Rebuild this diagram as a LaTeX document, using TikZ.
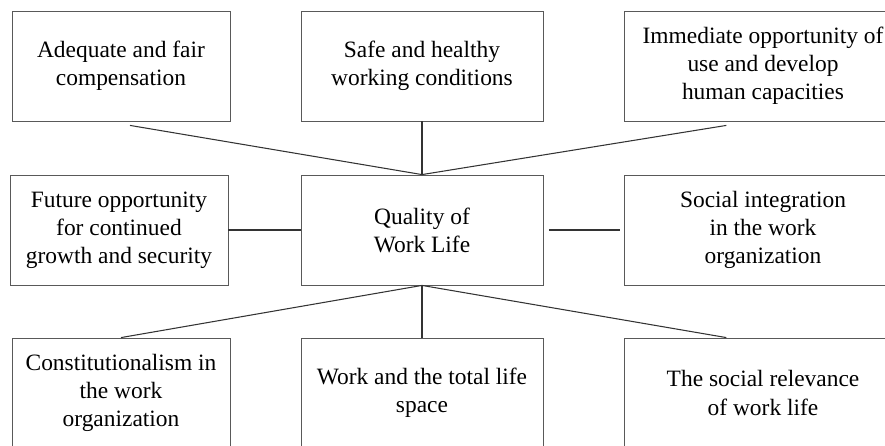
\documentclass[tikz,border=0pt]{standalone}
\usepackage{fontspec}
\setmainfont{Liberation Serif}
\usetikzlibrary{calc}

\begin{document}
\begin{tikzpicture}[
  x=0.03cm, y=-0.03cm,
  box/.style={draw=black!65, line width=0.7pt, rectangle, minimum height=3.3cm,
              align=center, inner sep=2pt,
              font=\fontsize{20}{24}\selectfont},
  lbox/.style={box, minimum width=6.54cm},
  cbox/.style={box, minimum width=7.26cm},
  rbox/.style={box, minimum width=8.3cm},
  con/.style={draw=black!80, line width=0.9pt},
]
%% ---- Page frame (right column runs off the edge) ----
\useasboundingbox (0,0) rectangle (885,446);
\clip (0,0) rectangle (885,446);

%% ---- Top row ----
\node[lbox] (TL) at (121, 66) {Adequate and fair\\compensation};
\node[cbox] (TC) at (422, 66) {Safe and healthy\\working conditions};
\node[rbox] (TR) at (763, 66) {Immediate opportunity of\\use and develop\\human capacities};

%% ---- Middle row ----
\node[lbox] (ML) at (119,230) {Future opportunity\\for continued\\growth and security};
\node[cbox] (Q)  at (422,230) {Quality of\\Work Life};
\node[rbox] (MR) at (763,230) {Social integration\\in the work\\organization};

%% ---- Bottom row ----
\node[lbox] (BL) at (121,393) {Constitutionalism in\\the work\\organization};
\node[cbox] (BC) at (422,393) {Work and the total life\\space};
\node[rbox] (BR) at (763,393) {The social relevance\\of work life};

%% ---- Connectors to the centre box ----
\draw[con] ([xshift=0.27cm,yshift=-0.12cm]TL.south) -- (Q.north);
\draw[con] (TC.south) -- (Q.north);
\draw[con] ([xshift=-1.1cm,yshift=-0.12cm]TR.south) -- (Q.north);
\draw[con] (ML.east) -- (Q.west);
\draw[con, shorten <=0.18cm, shorten >=0.12cm] (Q.east) -- (MR.west);
\draw[con] (Q.south) -- (BL.north);
\draw[con] (Q.south) -- (BC.north);
\draw[con] (Q.south) -- ([xshift=-1.1cm]BR.north);
\end{tikzpicture}
\end{document}
